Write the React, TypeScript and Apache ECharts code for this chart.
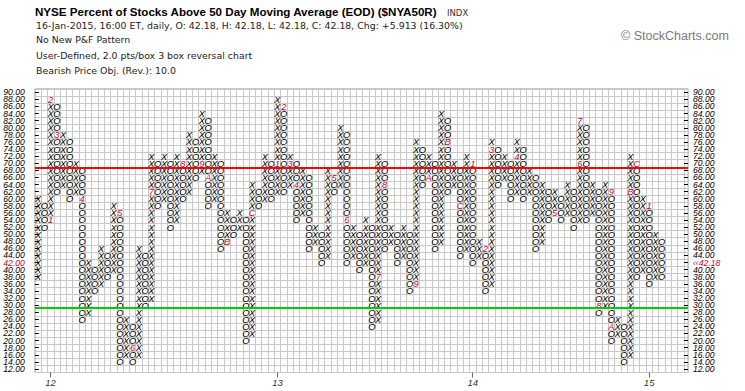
import React, { useEffect, useRef } from "react";
import * as echarts from "echarts";

// ---- P&F columns (2.0 pts/box, 3 box reversal) ----
const columnTypes = [
  "XOXOXOXOXO", "XOXOXOXOXO", "XOXOXOXOXO", "XOXOXOXOXO", "XOXOXOXOXO",
  "XOXOXOXOXO", "XOXOXOXOXO", "XOXOXOXOXO", "XOXOXOXOXO", "XOXOXOXOXO",
].join("");

const columnLow = [
  38, 52, 54, 62, 64, 60, 62, 26, 28, 34,
  36, 38, 40, 14, 16, 14, 16, 30, 32, 58,
  60, 52, 54, 60, 62, 66, 68, 58, 60, 46,
  48, 50, 52, 20, 22, 58, 60, 60, 62, 62,
  64, 54, 56, 46, 48, 42, 44, 62, 64, 42,
  44, 40, 42, 24, 26, 46, 48, 42, 44, 34,
  36, 64, 66, 46, 48, 62, 64, 44, 46, 42,
  44, 34, 36, 64, 66, 60, 62, 60, 62, 46,
  48, 54, 56, 54, 56, 52, 54, 54, 56, 28,
  30, 20, 22, 14, 16, 38, 40, 36, 38, 38,
];

const columnHigh = [
  60, 58, 88, 86, 78, 76, 70, 68, 42, 40,
  46, 44, 58, 56, 26, 24, 46, 44, 72, 70,
  72, 70, 72, 70, 78, 76, 84, 82, 72, 70,
  56, 54, 56, 54, 64, 62, 72, 70, 88, 86,
  72, 70, 68, 66, 52, 50, 68, 66, 80, 78,
  52, 50, 54, 52, 72, 70, 52, 50, 52, 50,
  76, 74, 72, 70, 84, 82, 70, 68, 72, 70,
  48, 46, 76, 74, 72, 70, 76, 74, 68, 66,
  64, 62, 62, 60, 64, 62, 82, 80, 64, 62,
  64, 62, 26, 24, 72, 70, 60, 58, 50, 48,
];

// ---- month markers (replace the box at column / value) ----
const markerCol = [
  3, 3, 4, 8, 14, 16, 19, 24, 27, 28, 31, 35,
  39, 40, 41, 42, 48, 50, 55, 56, 61, 63, 66, 68,
  70, 72, 73, 77, 83, 87, 87, 90, 92, 92, 95, 96,
  98,
];
const markerVal = [
  54, 88, 78, 60, 56, 18, 62, 70, 70, 66, 48, 56,
  70, 86, 70, 64, 66, 54, 38, 64, 36, 66, 76, 58,
  70, 46, 74, 72, 56, 70, 82, 30, 62, 24, 62, 70,
  58,
];
const markerText = [
  "1", "2", "3", "4", "5", "6", "7", "8", "9", "A", "B", "C",
  "1", "2", "3", "4", "5", "6", "7", "8", "9", "A", "B", "C",
  "1", "2", "3", "4", "5", "6", "7", "8", "9", "A", "B", "C",
  "1",
];

// ---- axis labels ----
const priceLabels = [
  "12.00", "14.00", "16.00", "18.00", "20.00", "22.00", "24.00", "26.00", "28.00", "30.00",
  "32.00", "34.00", "36.00", "38.00", "40.00", "42.00", "44.00", "46.00", "48.00", "50.00",
  "52.00", "54.00", "56.00", "58.00", "60.00", "62.00", "64.00", "66.00", "68.00", "70.00",
  "72.00", "74.00", "76.00", "78.00", "80.00", "82.00", "84.00", "86.00", "88.00", "90.00",
];
const firstPriceLabel = "42.00";
const lastPriceLabel = "‹‹42.18";
const yearCols = [3, 39, 70, 98];
const yearLabels = ["12", "13", "14", "15"];
const overboughtLevel = 70;
const oversoldLevel = 30;

const MARK = "#cc0033";
const BOX_MIN = 11; // lower edge of the lowest box
const XMAX = 103.67;

const xPos = (col: number) => col - 0.5;
const yPos = (v: number) => (v - BOX_MIN) / 2;

export default function App() {
  const ref = useRef<HTMLDivElement>(null);

  useEffect(() => {
    if (!ref.current) return;
    const chart = echarts.init(ref.current, undefined, { renderer: "svg" });

    const cells: { c: number; v: number; t: string; m: boolean }[] = [];
    for (let i = 0; i < columnTypes.length; i++) {
      const col = i + 1;
      for (let v = columnLow[i]; v <= columnHigh[i]; v += 2) {
        let t = columnTypes[i];
        let m = false;
        for (let k = 0; k < markerCol.length; k++) {
          if (markerCol[k] === col && markerVal[k] === v) {
            t = markerText[k];
            m = true;
          }
        }
        cells.push({ c: col, v, t, m });
      }
    }

    const rightLabels = priceLabels.map((l) => (l === firstPriceLabel ? lastPriceLabel : l));
    const yearTickPos = yearCols.map(xPos);

    const labelFont = {
      fontSize: 8.6,
      lineHeight: 7,
      fontStyle: "italic" as const,
      fontFamily: "Liberation Sans",
    };

    chart.setOption({
      animation: false,
      backgroundColor: "#ffffff",
      grid: {
        left: 34.85,
        right: 57,
        top: 88.75,
        bottom: 391 - 372.5,
        show: true,
        borderColor: "#b4b4b4",
        borderWidth: 1,
      },
      xAxis: [
        {
          type: "value",
          min: 0,
          max: XMAX,
          interval: 1,
          axisLine: { show: false },
          axisTick: { show: false },
          axisLabel: { show: false },
          splitLine: { show: true, lineStyle: { color: "#c8c8c8", width: 1 } },
        },
        {
          type: "value",
          position: "bottom",
          min: 0,
          max: XMAX,
          axisLine: { show: false },
          splitLine: { show: false },
          axisTick: {
            show: true,
            customValues: yearTickPos,
            length: 5,
            lineStyle: { color: "#666" },
          },
          axisLabel: {
            customValues: yearTickPos,
            fontSize: 9.5,
            fontStyle: "italic",
            fontFamily: "Liberation Sans",
            color: "#333",
            margin: 5,
            formatter: (val: number) => {
              const idx = yearTickPos.findIndex((p) => Math.abs(p - val) < 0.01);
              return idx >= 0 ? yearLabels[idx] : "";
            },
          },
        },
      ],
      yAxis: [
        {
          type: "value",
          position: "left",
          min: 0,
          max: 40,
          interval: 1,
          axisLine: { show: false },
          axisTick: { show: false },
          axisLabel: { show: false },
          splitLine: { show: true, lineStyle: { color: "#c8c8c8", width: 1 } },
        },
        {
          type: "category",
          position: "left",
          data: priceLabels,
          axisLine: { show: false },
          axisTick: {
            show: true,
            alignWithLabel: true,
            inside: true,
            length: 4,
            lineStyle: { color: "#000" },
          },
          axisLabel: {
            interval: 0,
            ...labelFont,
            margin: 10,
            color: (val: string) => (val === firstPriceLabel ? MARK : "#000"),
          },
          splitLine: { show: false },
        },
        {
          type: "category",
          position: "right",
          data: rightLabels,
          axisLine: { show: false },
          axisTick: {
            show: true,
            alignWithLabel: true,
            inside: true,
            length: 4,
            lineStyle: { color: "#000" },
          },
          axisLabel: {
            interval: 0,
            ...labelFont,
            margin: 5,
            color: (val: string) => (val === lastPriceLabel ? MARK : "#000"),
          },
          splitLine: { show: false },
        },
      ],
      series: [
        {
          type: "custom",
          xAxisIndex: 0,
          yAxisIndex: 0,
          silent: true,
          clip: false,
          data: cells.map((c) => [xPos(c.c), yPos(c.v)]),
          renderItem: (params: any, api: any) => {
            const cell = cells[params.dataIndex];
            const p = api.coord([api.value(0), api.value(1)]);
            return {
              type: "text",
              x: p[0],
              y: p[1] + 0.5,
              silent: true,
              style: {
                text: cell.t,
                fill: cell.m ? MARK : "#000",
                fontSize: 9.3,
                lineHeight: 7,
                fontFamily: "Liberation Sans",
                fontStyle: "italic",
                align: "center",
                verticalAlign: "middle",
                textAlign: "center",
                textVerticalAlign: "middle",
              },
            };
          },
          markLine: {
            silent: true,
            symbol: "none",
            label: { show: false },
            lineStyle: { width: 2, type: "solid" },
            data: [
              { yAxis: yPos(overboughtLevel) - 0.6, lineStyle: { color: "#ff0000", width: 2, type: "solid" } },
              { yAxis: yPos(oversoldLevel) - 0.35, lineStyle: { color: "#00cc00", width: 2, type: "solid" } },
            ],
          },
          z: 3,
        },
      ],
      graphic: [
        {
          type: "text",
          left: 35,
          top: 5,
          style: {
            text: "NYSE Percent of Stocks Above 50 Day Moving Average (EOD) ($NYA50R)",
            fill: "#000",
            fontSize: 11.6,
            fontWeight: "bold",
            fontFamily: "Liberation Sans",
          },
        },
        {
          type: "text",
          left: 447,
          top: 8,
          style: { text: "INDX", fill: "#333", fontSize: 8.5, fontFamily: "DejaVu Sans" },
        },
        {
          type: "text",
          left: 36,
          top: 21,
          style: {
            text: "16-Jan-2015, 16:00 ET, daily, O: 42.18, H: 42.18, L: 42.18, C: 42.18, Chg: +5.913 (16.30%)",
            fill: "#222",
            fontSize: 9.4,
            fontFamily: "DejaVu Sans",
          },
        },
        {
          type: "text",
          left: 36,
          top: 35,
          style: { text: "No New P&F Pattern", fill: "#222", fontSize: 9.4, fontFamily: "DejaVu Sans" },
        },
        {
          type: "text",
          left: 36,
          top: 51,
          style: {
            text: "User-Defined, 2.0 pts/box 3 box reversal chart",
            fill: "#222",
            fontSize: 9.4,
            fontFamily: "DejaVu Sans",
          },
        },
        {
          type: "text",
          left: 36,
          top: 66,
          style: {
            text: "Bearish Price Obj. (Rev.): 10.0",
            fill: "#222",
            fontSize: 9.4,
            fontFamily: "DejaVu Sans",
          },
        },
        {
          type: "text",
          left: 621,
          top: 29,
          style: { text: "© StockCharts.com", fill: "#7a7a7a", fontSize: 12.5, fontFamily: "Liberation Sans" },
        },
      ],
    });

    return () => chart.dispose();
  }, []);

  return (
    <div
      ref={ref}
      style={{ position: "absolute", left: 0, top: 0, width: 745, height: 391, background: "#fff" }}
    />
  );
}
